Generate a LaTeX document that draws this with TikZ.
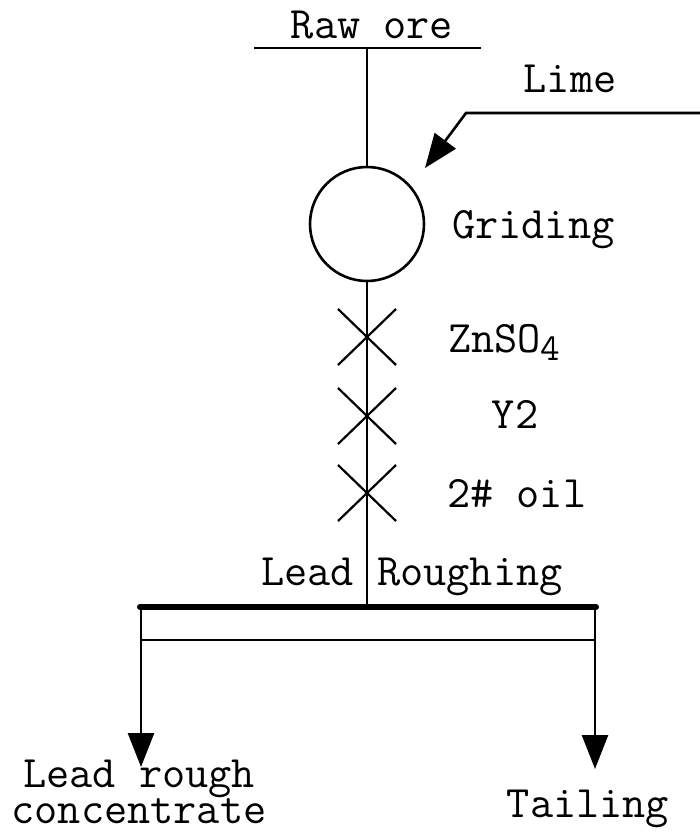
\documentclass[tikz,border=0pt]{standalone}
\usepackage{fontspec}
\usetikzlibrary{arrows.meta,calc}
\begin{document}
\begin{tikzpicture}[x=1pt,y=-1pt,
  line/.style={line width=2.6pt},
  xline/.style={line width=2.2pt},
  tip/.style={-{Triangle[length=34pt,width=26pt]}},
  lbl/.style={inner sep=0pt,font=\ttfamily\fontsize{45}{36}\selectfont}]
\useasboundingbox (0,0) rectangle (700,835);
% feed
\node[lbl,anchor=base] (rawore) at (372,38) {Raw ore};
\coordinate (feedL) at (254,48);
\coordinate (feedR) at (481,48);
\coordinate (feed) at (367,48);
\draw[line] (feedL) -- (feedR);
% grinding
\node[circle,draw,line width=2.6pt,minimum size=114pt,inner sep=0pt] (mill) at (367,224) {};
\node[lbl,anchor=base west] (grind) at (452,238) {Griding};
\draw[line] (feed) -- (mill.north);
% lime
\node[lbl,anchor=base] (lime) at (570,92) {Lime};
\coordinate (limeR) at (700,113);
\coordinate (limeK) at (466,113);
\coordinate (limeTip) at (425,168);
\draw[line,tip] (limeR) -- (limeK) -- (limeTip);
% main line to roughing
\coordinate (barL) at (140,607);
\coordinate (barR) at (596,607);
\coordinate (barM) at (367,607);
\draw[line] (mill.south) -- (barM);
% reagent crosses
\foreach \yy/\nm in {337/c1,416/c2,493/c3}{
  \coordinate (\nm) at (367,\yy);
  \draw[xline] ($(\nm)+(-29,-28)$) -- ($(\nm)+(29,28)$);
  \draw[xline] ($(\nm)+(-29,28)$) -- ($(\nm)+(29,-28)$);
}
\node[lbl,anchor=base west] (znso) at (448,352) {ZnSO{\fontsize{38}{38}\selectfont\raisebox{-8pt}{4}}};
\node[lbl,anchor=base] (y2) at (515,428) {Y2};
\node[lbl,anchor=base west] (oil) at (447,507) {2\# oil};
% roughing
\node[lbl,anchor=base] (rough) at (412,585) {Lead Roughing};
\draw[line width=6pt,line cap=round] (barL) -- (barR);
\coordinate (subL) at (141,640);
\coordinate (subR) at (595,640);
\draw[line] (subL) -- (subR);
\coordinate (concTop) at (141,607);
\coordinate (concTip) at (141,767);
\coordinate (tailTop) at (595,607);
\coordinate (tailTip) at (595,769);
\draw[line,tip] (concTop) -- (concTip);
\draw[line,tip] (tailTop) -- (tailTip);
\node[lbl,anchor=base,align=center] (conc) at (139,823) {Lead rough\\concentrate};
\node[lbl,anchor=base] (tail) at (588,817) {Tailing};
\end{tikzpicture}
\end{document}
